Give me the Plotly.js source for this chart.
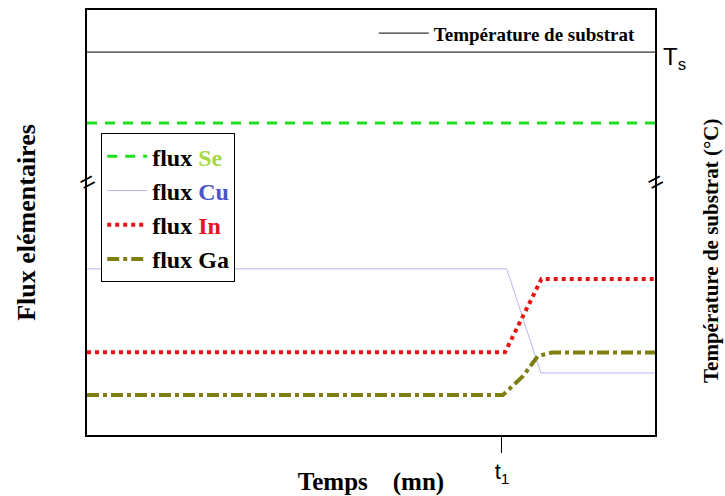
<!DOCTYPE html>
<html><head><meta charset="utf-8">
<script src="https://cdn.plot.ly/plotly-3.0.1.min.js"></script>
<style>body{margin:0;background:#fff}#c{width:725px;height:496px}</style>
</head><body><div id="c"></div>
<script>
// Data (time axis 0..100 arbitrary units, flux arbitrary units 0..100)
const tsX = [0, 100];
const tsY = [90.1, 90.1];
const seX = [0, 100];
const seY = [73.4, 73.4];
const cuX = [0, 73.9, 79.9, 100];
const cuY = [39.1, 39.1, 14.6, 14.6];
const inX = [0, 73.6, 80.0, 100];
const inY = [19.5, 19.5, 36.7, 36.7];
const gaX = [0, 73.2, 74.9, 76.8, 78.5, 79.4, 81.9, 100];
const gaY = [9.4, 9.4, 11.5, 13.9, 17.0, 18.6, 19.4, 19.4];
const tickVals = [73.06];
const tickText = ['t<sub>1</sub>'];

const serif = 'Liberation Serif, Times New Roman, serif';
const traces = [
  {x: tsX, y: tsY, mode: 'lines', name: '<b>Température de substrat</b>', legend: 'legend',
   line: {color: '#000', width: 1}},
  {x: seX, y: seY, mode: 'lines', name: '<b>flux <span style="color:#a6d843">Se</span></b>', legend: 'legend2',
   line: {color: '#1ee01e', width: 3, dash: '10px,8px'}},
  {x: cuX, y: cuY, mode: 'lines', name: '<b>flux <span style="color:#4b55c8">Cu</span></b>', legend: 'legend2',
   line: {color: '#b4b8ec', width: 1}},
  {x: inX, y: inY, mode: 'lines', name: '<b>flux <span style="color:#e8141e">In</span></b>', legend: 'legend2',
   line: {color: '#ee1111', width: 4, dash: 'dot'}},
  {x: gaX, y: gaY, mode: 'lines', name: '<b>flux Ga</b>', legend: 'legend2',
   line: {color: '#7f7f10', width: 4, dash: 'dashdot'}}
];

const layout = {
  width: 725, height: 496,
  margin: {l: 87, r: 70, t: 10, b: 61},
  paper_bgcolor: '#fff', plot_bgcolor: '#fff',
  showlegend: true,
  xaxis: {range: [0, 100], showgrid: false, zeroline: false, showline: true, mirror: true,
    linecolor: '#000', linewidth: 2, tickmode: 'array', tickvals: tickVals, ticktext: tickText,
    ticks: 'outside', ticklen: 16, tickcolor: '#000', tickwidth: 1,
    tickfont: {family: 'Arial, Liberation Sans', size: 22, color: '#000'},
    title: {text: '<b>Temps    (mn)</b>', font: {family: serif, size: 25, color: '#000'}, standoff: 0}},
  yaxis: {range: [0, 100], showgrid: false, zeroline: false, showline: true, mirror: true,
    linecolor: '#000', linewidth: 2, showticklabels: false, ticks: '',
    title: {text: '<b>Flux elémentaires</b>', font: {family: serif, size: 26, color: '#000'}, standoff: 42}},
  legend: {x: 0.975, xanchor: 'right', y: 0.99, yanchor: 'top', bgcolor: 'rgba(0,0,0,0)',
    font: {family: serif, size: 19, color: '#000'}, borderwidth: 0, itemwidth: 50},
  legend2: {x: 0.025, xanchor: 'left', y: 0.71, yanchor: 'top', bgcolor: '#fff',
    bordercolor: '#000', borderwidth: 1, tracegroupgap: 0, itemwidth: 40,
    font: {family: serif, size: 24, color: '#000'}},
  annotations: [
    {xref: 'paper', yref: 'y', x: 1.0, y: 90.1, xanchor: 'left', yanchor: 'middle', xshift: 6, yshift: -6,
     text: 'T<sub>s</sub>', showarrow: false, font: {family: 'Arial, Liberation Sans', size: 24, color: '#000'}},
    {xref: 'paper', yref: 'paper', x: 1.0, y: 0.433, xanchor: 'left', yanchor: 'middle', xshift: 42,
     text: '<b>Température de substrat (°C)</b>', textangle: -90, showarrow: false,
     font: {family: serif, size: 21, color: '#000'}},
    {xref: 'paper', yref: 'paper', x: 0, y: 0.595, xanchor: 'center', yanchor: 'middle',
     text: '=', textangle: -28, showarrow: false, font: {family: 'Arial', size: 26, color: '#000'}},
    {xref: 'paper', yref: 'paper', x: 1, y: 0.595, xanchor: 'center', yanchor: 'middle',
     text: '=', textangle: -28, showarrow: false, font: {family: 'Arial', size: 26, color: '#000'}}
  ]
};
Plotly.newPlot('c', traces, layout, {displayModeBar: false, staticPlot: true});
</script></body></html>
